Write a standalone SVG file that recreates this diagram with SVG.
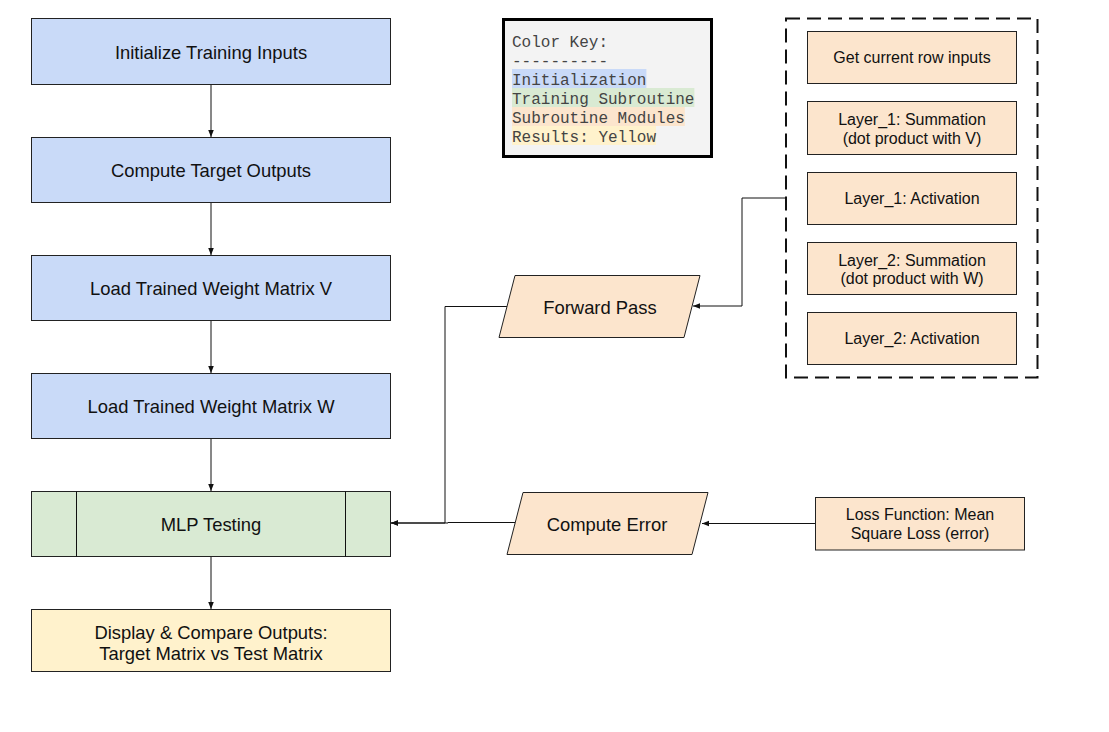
<svg xmlns="http://www.w3.org/2000/svg" width="1109" height="732" viewBox="0 0 1109 732">
<style>
.box{stroke:#222;stroke-width:1}
.blue{fill:#c9daf8}
.green{fill:#d9ead3}
.orange{fill:#fce5cd}
.yellow{fill:#fff2cc}
.t{font-family:"Liberation Sans",Arial,sans-serif;font-size:18.4px;fill:#111;text-anchor:middle}
.s{font-family:"Liberation Sans",Arial,sans-serif;font-size:16px;fill:#111;text-anchor:middle}
.m{font-family:"Liberation Mono","Courier New",monospace;font-size:16px;fill:#444}
.c{fill:none;stroke:#111;stroke-width:1}
</style>
<defs>
<marker id="ah" viewBox="0 0 8 8" refX="8" refY="4" markerWidth="7" markerHeight="7" markerUnits="userSpaceOnUse" orient="auto">
<path d="M0,0.8 L8,4 L0,7.2 Z" fill="#111"/>
</marker>
</defs>
<rect width="1109" height="732" fill="#fff"/>

<g id="connectors">
<path class="c" d="M211 84 V137" marker-end="url(#ah)"/>
<path class="c" d="M211 202 V255" marker-end="url(#ah)"/>
<path class="c" d="M211 320 V373" marker-end="url(#ah)"/>
<path class="c" d="M211 438 V491" marker-end="url(#ah)"/>
<path class="c" d="M211 556 V609" marker-end="url(#ah)"/>
<path class="c" d="M786 198 H742 V306 H693" marker-end="url(#ah)"/>
<path class="c" d="M507 306.5 H445 V523 H391" marker-end="url(#ah)"/>
<path class="c" d="M515 522.5 H448 V523 H391" marker-end="url(#ah)"/>
<path class="c" d="M815 523.5 H702" marker-end="url(#ah)"/>
</g>

<g id="n1"><rect class="box blue" x="31.5" y="18.5" width="359" height="66"/><text class="t" x="211" y="58.5">Initialize Training Inputs</text></g>
<g id="n2"><rect class="box blue" x="31.5" y="137.5" width="359" height="65"/><text class="t" x="211" y="176.5">Compute Target Outputs</text></g>
<g id="n3"><rect class="box blue" x="31.5" y="255.5" width="359" height="65"/><text class="t" x="211" y="294.5">Load Trained Weight Matrix V</text></g>
<g id="n4"><rect class="box blue" x="31.5" y="373.5" width="359" height="65"/><text class="t" x="211" y="412.5">Load Trained Weight Matrix W</text></g>
<g id="n5"><rect class="box green" x="31.5" y="491.5" width="359" height="65"/><line class="c" x1="76.5" y1="491.5" x2="76.5" y2="556.5"/><line class="c" x1="345.5" y1="491.5" x2="345.5" y2="556.5"/><text class="t" x="211" y="530.5">MLP Testing</text></g>
<g id="n6"><rect class="box yellow" x="31.5" y="609.5" width="359" height="62"/><text class="t" x="211" y="638.5">Display &amp; Compare Outputs:</text><text class="t" x="211" y="659.5">Target Matrix vs Test Matrix</text></g>

<g id="key">
<rect x="503.5" y="19.5" width="208" height="137" fill="#f3f3f3" stroke="#000" stroke-width="3"/>
<rect x="512" y="69" width="134.4" height="19" fill="#c9daf8"/>
<rect x="512" y="88" width="182.4" height="19" fill="#d9ead3"/>
<rect x="512" y="107" width="172.8" height="19" fill="#fce5cd"/>
<rect x="512" y="126" width="144" height="19" fill="#fff2cc"/>
<text class="m" x="512" y="47">Color Key:</text>
<text class="m" x="512" y="66">----------</text>
<text class="m" x="512" y="85">Initialization</text>
<text class="m" x="512" y="104">Training Subroutine</text>
<text class="m" x="512" y="123">Subroutine Modules</text>
<text class="m" x="512" y="142">Results: Yellow</text>
</g>

<g id="group">
<rect x="786" y="18.5" width="251.5" height="359" fill="none" stroke="#111" stroke-width="2" stroke-dasharray="14 7"/>
</g>
<g id="m1"><rect class="box orange" x="807.5" y="31.5" width="209" height="52"/><text class="s" x="912" y="63">Get current row inputs</text></g>
<g id="m2"><rect class="box orange" x="807.5" y="101.5" width="209" height="53"/><text class="s" x="912" y="125">Layer_1: Summation</text><text class="s" x="912" y="143.5">(dot product with V)</text></g>
<g id="m3"><rect class="box orange" x="807.5" y="172.5" width="209" height="52"/><text class="s" x="912" y="204">Layer_1: Activation</text></g>
<g id="m4"><rect class="box orange" x="807.5" y="242.5" width="209" height="52"/><text class="s" x="912" y="265.5">Layer_2: Summation</text><text class="s" x="912" y="284">(dot product with W)</text></g>
<g id="m5"><rect class="box orange" x="807.5" y="312.5" width="209" height="52"/><text class="s" x="912" y="344">Layer_2: Activation</text></g>

<g id="fwd"><polygon class="box orange" points="515,275.5 700,275.5 684,337.5 499,337.5"/><text class="t" x="600" y="313.5">Forward Pass</text></g>
<g id="err"><polygon class="box orange" points="523,492.5 708,492.5 692,554.5 507,554.5"/><text class="t" x="607" y="530.5">Compute Error</text></g>
<g id="loss"><rect class="box orange" x="815.5" y="497.5" width="209" height="52.5"/><text class="s" x="920" y="520">Loss Function: Mean</text><text class="s" x="920" y="539">Square Loss (error)</text></g>
</svg>
